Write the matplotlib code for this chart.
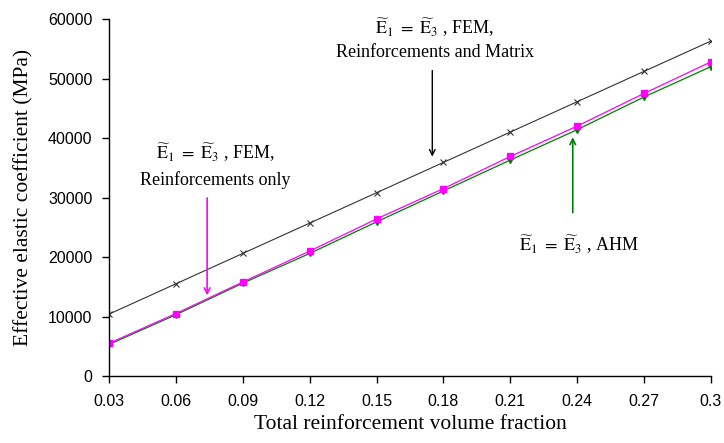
import matplotlib
matplotlib.use("Agg")
import matplotlib.pyplot as plt
from matplotlib import font_manager

plt.rcParams['mathtext.fontset'] = 'stix'

vf = [0.03, 0.06, 0.09, 0.12, 0.15, 0.18, 0.21, 0.24, 0.27, 0.30]
x_tick_labels = ['0.03', '0.06', '0.09', '0.12', '0.15', '0.18', '0.21', '0.24', '0.27', '0.3']
fem_matrix = [10400, 15500, 20600, 25700, 30800, 35900, 41000, 46100, 51200, 56300]
fem_reinf = [5500, 10500, 15800, 21000, 26400, 31500, 36900, 42000, 47500, 52800]
ahm = [5300, 10300, 15600, 20600, 25900, 31100, 36300, 41400, 46900, 52000]
y_ticks = [0, 10000, 20000, 30000, 40000, 50000, 60000]

names = {f.name for f in font_manager.fontManager.ttflist}
tick_family = 'Liberation Sans Narrow' if 'Liberation Sans Narrow' in names else 'Liberation Sans'
tick_size = 12 if tick_family == 'Liberation Sans Narrow' else 11.5

fig = plt.figure(figsize=(7.24, 4.43), dpi=100)
ax = fig.add_axes([0.1506, 0.1512, 0.8314, 0.8059])

ax.plot(vf, fem_matrix, color='#333333', lw=0.8, marker='x', ms=4, mew=0.8)
ax.plot(vf, ahm, color='#008000', lw=0.9, marker='v', ms=4)
ax.plot(vf, fem_reinf, color='#FF00FF', lw=0.9, marker='s', ms=5)

ax.set_xlim(0.03, 0.3)
ax.set_ylim(0, 60000)
ax.set_xticks(vf)
ax.set_xticklabels(x_tick_labels)
ax.set_yticks(y_ticks)
ax.set_yticklabels([str(v) for v in y_ticks])
for s in ['top', 'right']:
    ax.spines[s].set_visible(False)
for s in ['left', 'bottom']:
    ax.spines[s].set_linewidth(1.0)
ax.tick_params(direction='out', length=5, width=1, labelsize=tick_size)
for lab in ax.get_xticklabels() + ax.get_yticklabels():
    lab.set_family(tick_family)
ax.tick_params(axis='x', pad=8)
ax.tick_params(axis='y', pad=7)

ax.set_xlabel('Total reinforcement volume fraction', family='Liberation Serif', fontsize=15.5, labelpad=4)
ax.set_ylabel('Effective elastic coefficient (MPa)', family='Liberation Serif', fontsize=15.5, labelpad=10)

eq = r'$\widetilde{\mathrm{E}}_1\ =\ \widetilde{\mathrm{E}}_3$'
tfont = dict(family='Liberation Serif', fontsize=13, ha='center', va='center')

# black annotation
ax.text(0.176, 58500, eq + ' , FEM,', **tfont)
ax.text(0.176, 54300, 'Reinforcements and Matrix', **tfont)
ax.annotate('', xy=(0.175, 36400), xytext=(0.175, 51800),
            arrowprops=dict(arrowstyle='->', color='black', lw=1.0))

# magenta annotation
ax.text(0.0775, 37500, eq + ' , FEM,', **tfont)
ax.text(0.0775, 32900, 'Reinforcements only', **tfont)
ax.annotate('', xy=(0.074, 13100), xytext=(0.074, 30400),
            arrowprops=dict(arrowstyle='->', color='#FF00FF', lw=1.2))

# green annotation
ax.text(0.241, 22000, eq + ' , AHM', **tfont)
ax.annotate('', xy=(0.238, 40600), xytext=(0.238, 27000),
            arrowprops=dict(arrowstyle='->', color='#008000', lw=1.2))

fig.savefig('out.png', dpi=100)
